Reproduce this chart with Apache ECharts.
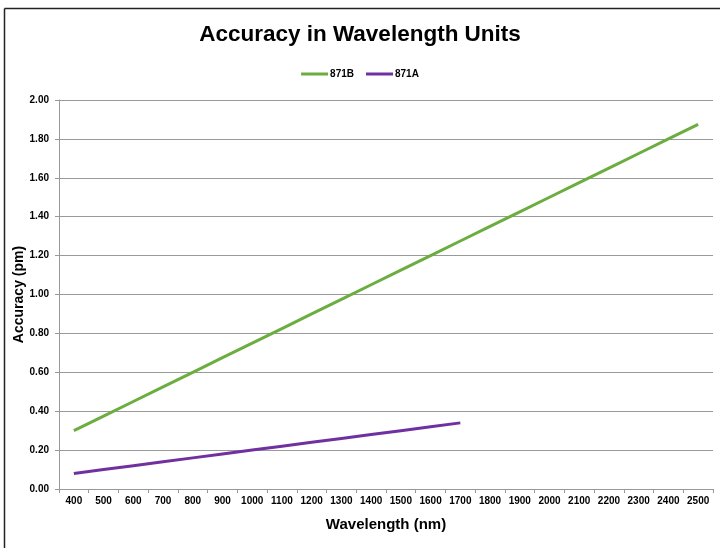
<!DOCTYPE html>
<html><head><meta charset="utf-8">
<script src="https://cdn.jsdelivr.net/npm/echarts@6/dist/echarts.min.js"></script>
<style>html,body{margin:0;padding:0;background:#fff}#c{width:720px;height:548px}</style>
</head><body><div id="c"></div>
<script>
const categories = ['400','500','600','700','800','900','1000','1100','1200','1300','1400','1500','1600','1700','1800','1900','2000','2100','2200','2300','2400','2500'];
const series871B = [0.30,0.375,0.45,0.525,0.60,0.675,0.75,0.825,0.90,0.975,1.05,1.125,1.20,1.275,1.35,1.425,1.50,1.575,1.65,1.725,1.80,1.875];
const series871A = [0.08,0.10,0.12,0.14,0.16,0.18,0.20,0.22,0.24,0.26,0.28,0.30,0.32,0.34,null,null,null,null,null,null,null,null];
const yTicks = [0,0.2,0.4,0.6,0.8,1.0,1.2,1.4,1.6,1.8,2.0];

const chart = echarts.init(document.getElementById('c'));
const F = 'Liberation Sans, Arial, sans-serif';
chart.setOption({
  animation: false,
  graphic: [
    {type:'line', shape:{x1:4.5,y1:8.5,x2:720,y2:8.5}, style:{stroke:'#222',lineWidth:1.5}},
    {type:'line', shape:{x1:4.5,y1:8.5,x2:4.5,y2:548}, style:{stroke:'#222',lineWidth:1.5}}
  ],
  title: {text:'Accuracy in Wavelength Units', left:'center', top:18,
    textStyle:{fontFamily:F, fontWeight:'bold', fontSize:22.5, color:'#000'}},
  legend: {top:64, left:'center', itemWidth:27, itemHeight:3, itemGap:12,
    icon:'rect',
    textStyle:{fontFamily:F, fontWeight:'bold', fontSize:10, color:'#000', padding:[0,0,0,-3]},
    data:['871B','871A']},
  grid: {left:59, right:7, top:100, bottom:59, containLabel:false, outerBoundsMode:'none'},
  xAxis: {type:'category', data:categories, boundaryGap:true,
    name:'Wavelength (nm)', nameLocation:'middle', nameGap:28,
    nameTextStyle:{fontFamily:F, fontWeight:'bold', fontSize:15, color:'#000'},
    axisLine:{lineStyle:{color:'#999'}},
    axisTick:{show:true, length:4, lineStyle:{color:'#999'}},
    axisLabel:{fontFamily:F, fontWeight:'bold', fontSize:10, color:'#000', interval:0, margin:7},
    splitLine:{show:false}},
  yAxis: {type:'value', min:0, max:2, interval:0.2,
    name:'Accuracy (pm)', nameLocation:'middle', nameGap:33, nameMoveOverlap:false,
    nameTextStyle:{fontFamily:F, fontWeight:'bold', fontSize:14, color:'#000'},
    axisLine:{show:true, lineStyle:{color:'#999'}},
    axisTick:{show:true, length:4, lineStyle:{color:'#999'}},
    axisLabel:{fontFamily:F, fontWeight:'bold', fontSize:10, color:'#000', margin:10,
      formatter: v => yTicks.some(t=>Math.abs(t-v)<1e-9) ? v.toFixed(2) : ''},
    splitLine:{show:true, lineStyle:{color:'#999', width:1}}},
  series: [
    {name:'871B', type:'line', data:series871B, showSymbol:false, symbol:'none',
      lineStyle:{color:'#6BAE3F', width:3}, itemStyle:{color:'#6BAE3F'}},
    {name:'871A', type:'line', data:series871A, showSymbol:false, symbol:'none',
      lineStyle:{color:'#7030A0', width:3}, itemStyle:{color:'#7030A0'}}
  ]
});
</script></body></html>
